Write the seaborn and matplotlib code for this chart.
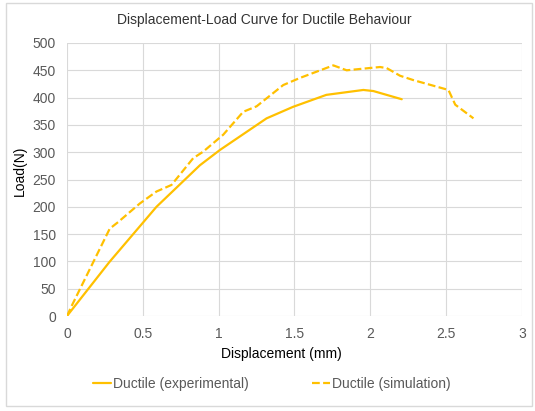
import matplotlib
matplotlib.use("Agg")
import matplotlib.pyplot as plt
import seaborn as sns
import pandas as pd
from matplotlib.patches import Rectangle
from matplotlib.lines import Line2D

exp_x = [0.0, 0.28, 0.59, 0.876, 1.008, 1.316, 1.49, 1.71, 1.954, 2.02, 2.207]
exp_y = [0, 99, 200, 276, 304, 362, 383, 405, 414, 412, 397]

sim_x = [0.0, 0.03, 0.282, 0.337, 0.48, 0.59, 0.689, 0.832, 0.898, 1.03, 1.162,
         1.25, 1.426, 1.536, 1.756, 1.844, 2.064, 2.108, 2.196, 2.284, 2.515,
         2.56, 2.68]
sim_y = [0, 18, 160, 172, 206, 228, 240, 289, 301, 332, 374,
         384, 423, 436, 459, 450, 456, 454, 440, 432, 414,
         387, 362]

labels = ["Ductile (experimental)", "Ductile (simulation)"]
x_ticks = [0, 0.5, 1, 1.5, 2, 2.5, 3]
y_ticks = list(range(0, 501, 50))

sns.set_theme(style="white")
plt.rcParams['font.family'] = ['Liberation Sans', 'DejaVu Sans']

df = pd.concat([
    pd.DataFrame({"x": exp_x, "y": exp_y, "series": labels[0]}),
    pd.DataFrame({"x": sim_x, "y": sim_y, "series": labels[1]}),
])

fig = plt.figure(figsize=(5.35, 4.11), dpi=100)
ax = fig.add_axes([0.1252, 0.2311, 0.8505, 0.6643])

color = "#FFC000"
lw = 1.6
dash = (3.5, 1.5)
sns.lineplot(data=df, x="x", y="y", hue="series", style="series",
             palette=[color, color], dashes=[(None, None), dash],
             linewidth=lw, sort=False, estimator=None, ax=ax, legend=False)

ax.set_xlim(0, 3)
ax.set_ylim(0, 500)
ax.set_xticks(x_ticks)
ax.set_xticklabels([f"{t:g}" for t in x_ticks])
ax.set_yticks(y_ticks)
ax.grid(True, color="#D9D9D9", linewidth=0.8)
for s in ax.spines.values():
    s.set_visible(False)
ax.tick_params(axis="both", colors="#595959", labelsize=10, length=0)
ax.tick_params(axis="x", pad=8)
ax.tick_params(axis="y", pad=8)
ax.set_xlabel("Displacement (mm)", fontsize=10, color="black")
ax.xaxis.set_label_coords(0.471, -0.1136)
ax.set_ylabel("Load(N)", fontsize=10, color="black", va="center")
ax.yaxis.set_label_coords(-0.103, 0.531)
fig.text(0.494, 1 - 20 / 411, "Displacement-Load Curve for Ductile Behaviour",
         fontsize=10, color="#333333", ha="center", va="center")

handles = [Line2D([], [], color=color, linewidth=lw),
           Line2D([], [], color=color, linewidth=lw, dashes=dash)]
leg = fig.legend(handles, labels, loc="center", bbox_to_anchor=(0.508, 0.066),
                 ncol=2, frameon=False, fontsize=10, handlelength=1.3,
                 handletextpad=0.1, columnspacing=4.6)
for t in leg.get_texts():
    t.set_color("#595959")

fig.patches.append(Rectangle((6/535, 5/411), 526/535, 403/411, transform=fig.transFigure,
                             fill=False, edgecolor="#D9D9D9", linewidth=1))

fig.savefig("out.png", dpi=100)
